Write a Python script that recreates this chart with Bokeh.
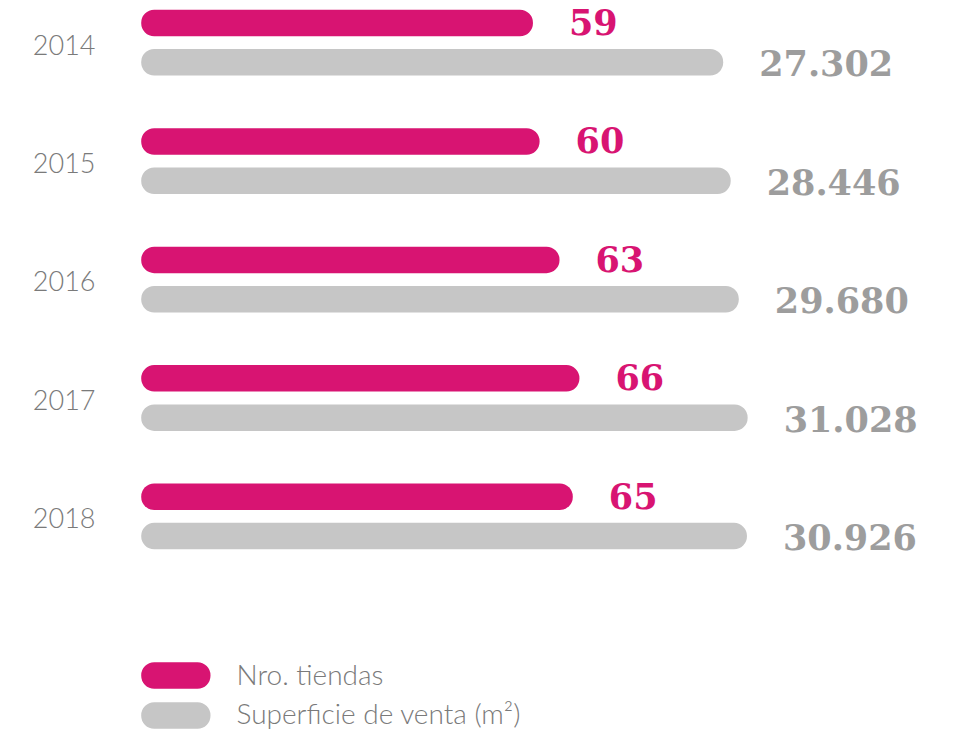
from bokeh.plotting import figure
from bokeh.models import Range1d, ColumnDataSource
from bokeh.core.properties import value
from bokeh.embed import file_html
from bokeh.resources import INLINE

# ---- data ----
years = ["2014", "2015", "2016", "2017", "2018"]
tiendas = [59, 60, 63, 66, 65]
superficie = [27302, 28446, 29680, 31028, 30926]
superficie_labels = ["27.302", "28.446", "29.680", "31.028", "30.926"]
legend_labels = ["Nro. tiendas", "Superficie de venta (m²)"]

# ---- style / layout constants ----
PINK = "#D81472"
GRAY_BAR = "#C6C6C6"
GRAY_LABEL = "#9D9D9D"
TEXT_GRAY = "#7A7A7A"
LIGHT_FONT = "Lato Light, Lato"
W, H = 964, 733
ROW_PX = 118.45          # vertical distance between rows
TOP_PX = 22.5            # centre of first pink bar
BAR_PX = 26.5            # bar thickness
GAP_PX = 39.3            # pink centre -> gray centre
X0_PX = 140.7            # bar origin
PINK_PX_PER = 6.64       # px per store
GRAY_PX_PER = 0.00656    # px per m2
GRAY_AT_ORIGIN = -61418  # m2 value mapped to bar origin
RADIUS = 13

x_start = -X0_PX / PINK_PX_PER
x_end = (W - X0_PX) / PINK_PX_PER
g_start = GRAY_AT_ORIGIN - X0_PX / GRAY_PX_PER
g_end = GRAY_AT_ORIGIN + (W - X0_PX) / GRAY_PX_PER

p = figure(width=W, height=H,
           x_range=Range1d(x_start, x_end),
           y_range=Range1d((H - TOP_PX) / ROW_PX, -TOP_PX / ROW_PX),
           output_backend="svg", toolbar_location=None,
           x_axis_location=None, y_axis_location=None,
           min_border=0)
p.extra_x_ranges = {"gray": Range1d(g_start, g_end)}
p.grid.visible = False
p.outline_line_color = None
p.background_fill_color = "white"
p.border_fill_color = "white"

rows = list(range(len(years)))
bh = BAR_PX / ROW_PX
gap = GAP_PX / ROW_PX

src = ColumnDataSource(dict(
    y_pink=rows,
    y_gray=[r + gap for r in rows],
    tiendas=tiendas,
    superficie=superficie,
    t_lab=[str(v) for v in tiendas],
    s_lab=superficie_labels,
    y_pink_lab=[r - 1.0 / ROW_PX for r in rows],
    y_gray_lab=[r + gap + 1.0 / ROW_PX for r in rows],
    years=years,
    y_year=[r + 21.5 / ROW_PX for r in rows],
    x_year=[(95 - X0_PX) / PINK_PX_PER] * len(rows),
    zero=[0] * len(rows),
    g0=[GRAY_AT_ORIGIN] * len(rows),
))

p.hbar(y="y_pink", left="zero", right="tiendas", height=bh, source=src,
       fill_color=PINK, line_color=None, border_radius=RADIUS)
p.hbar(y="y_gray", left="g0", right="superficie", height=bh, source=src,
       fill_color=GRAY_BAR, line_color=None, border_radius=RADIUS,
       x_range_name="gray")

p.text(x="tiendas", y="y_pink_lab", text="t_lab", source=src, x_offset=36,
       text_font=value("DejaVu Serif"), text_font_style="bold",
       text_font_size="35px", text_color=PINK,
       text_align="left", text_baseline="alphabetic")
p.text(x="superficie", y="y_gray_lab", text="s_lab", source=src, x_offset=36,
       text_font=value("DejaVu Serif"), text_font_style="bold",
       text_font_size="35px", text_color=GRAY_LABEL,
       text_align="left", text_baseline="alphabetic", x_range_name="gray")

p.text(x="x_year", y="y_year", text="years", source=src,
       text_font=value(LIGHT_FONT), text_font_size="27px", text_color=TEXT_GRAY,
       text_align="right", text_baseline="alphabetic")

# ---- legend (manual, pill swatches) ----
leg_y = [(675 - TOP_PX) / ROW_PX, (715 - TOP_PX) / ROW_PX]
leg_src = ColumnDataSource(dict(
    y=leg_y,
    left=[0, 0],
    right=[69.3 / PINK_PX_PER] * 2,
    color=[PINK, GRAY_BAR],
    label=legend_labels,
    x_lab=[(236 - X0_PX) / PINK_PX_PER] * 2,
    y_lab=[leg_y[0] - 1.5 / ROW_PX, leg_y[1] - 3.0 / ROW_PX],
))
p.hbar(y="y", left="left", right="right", height=bh, source=leg_src,
       fill_color="color", line_color=None, border_radius=RADIUS)
p.text(x="x_lab", y="y_lab", text="label", source=leg_src,
       text_font=value(LIGHT_FONT), text_font_size="28px", text_color=TEXT_GRAY,
       text_align="left", text_baseline="alphabetic")

open("out.html", "w").write(file_html(p, INLINE))
